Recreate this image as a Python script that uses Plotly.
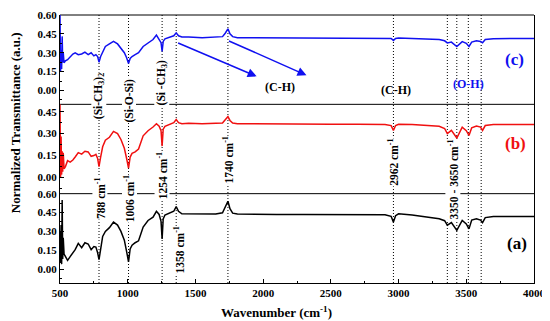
import plotly.graph_objects as go

# ---------------- data ----------------
wavenumber = [500, 504, 508, 512, 516, 520, 524, 530, 540, 556, 575, 595, 612, 635, 660, 684, 708, 730,
              750, 765, 778, 788, 800, 815, 835, 865, 895, 925, 950, 975, 992, 1006, 1018, 1032, 1055,
              1080, 1114, 1150, 1187, 1212, 1232, 1246, 1254, 1262, 1275, 1310, 1340, 1358, 1375, 1400,
              1450, 1550, 1650, 1700, 1720, 1740, 1755, 1775, 1810, 1900, 2100, 2300, 2500, 2700, 2900,
              2945, 2962, 2978, 3000, 3100, 3200, 3300, 3340, 3360, 3390, 3430, 3470, 3500, 3520, 3540,
              3575, 3605, 3620, 3640, 3700, 3800, 3900, 4000]

trans_c = [0.60, 0.15, 0.32, 0.17, 0.43, 0.22, 0.30, 0.22, 0.235, 0.245, 0.27, 0.29, 0.30, 0.285, 0.29,
           0.305, 0.285, 0.30, 0.275, 0.285, 0.27, 0.225, 0.27, 0.31, 0.35, 0.37, 0.39, 0.37, 0.33, 0.30,
           0.26, 0.215, 0.255, 0.27, 0.285, 0.30, 0.35, 0.38, 0.405, 0.44, 0.41, 0.38, 0.31, 0.39, 0.41,
           0.425, 0.435, 0.458, 0.435, 0.425, 0.426, 0.42, 0.422, 0.428, 0.455, 0.49, 0.45, 0.428, 0.42,
           0.42, 0.419, 0.419, 0.418, 0.418, 0.417, 0.414, 0.398, 0.414, 0.418, 0.414, 0.41, 0.405, 0.395,
           0.378, 0.385, 0.35, 0.388, 0.375, 0.35, 0.385, 0.395, 0.39, 0.38, 0.405, 0.412, 0.413, 0.413,
           0.414]

trans_b = [0.50, 0.00, 0.28, 0.02, 0.18, 0.04, 0.17, 0.06, 0.075, 0.115, 0.105, 0.12, 0.14, 0.17, 0.16,
           0.18, 0.175, 0.145, 0.15, 0.158, 0.13, 0.075, 0.14, 0.21, 0.255, 0.275, 0.315, 0.30, 0.26, 0.20,
           0.13, 0.065, 0.14, 0.165, 0.175, 0.195, 0.285, 0.32, 0.345, 0.367, 0.35, 0.32, 0.215, 0.33, 0.35,
           0.365, 0.375, 0.396, 0.375, 0.368, 0.37, 0.368, 0.369, 0.372, 0.395, 0.416, 0.39, 0.372, 0.368,
           0.367, 0.366, 0.365, 0.364, 0.364, 0.363, 0.355, 0.322, 0.355, 0.364, 0.362, 0.358, 0.35, 0.335,
           0.30, 0.322, 0.27, 0.344, 0.32, 0.288, 0.34, 0.352, 0.345, 0.322, 0.355, 0.362, 0.362, 0.362,
           0.362]

trans_a = [0.30, 0.05, 0.35, 0.04, 0.55, 0.08, 0.25, 0.12, 0.10, 0.07, 0.10, 0.13, 0.155, 0.205, 0.17,
           0.21, 0.20, 0.155, 0.18, 0.175, 0.13, 0.075, 0.17, 0.26, 0.30, 0.33, 0.374, 0.35, 0.30, 0.23,
           0.14, 0.058, 0.16, 0.19, 0.21, 0.225, 0.335, 0.387, 0.413, 0.46, 0.435, 0.38, 0.24, 0.40, 0.43,
           0.445, 0.46, 0.497, 0.46, 0.44, 0.44, 0.436, 0.438, 0.448, 0.49, 0.54, 0.48, 0.445, 0.438,
           0.436, 0.435, 0.434, 0.434, 0.433, 0.432, 0.42, 0.374, 0.425, 0.44, 0.43, 0.418, 0.40, 0.385,
           0.35, 0.37, 0.308, 0.387, 0.36, 0.32, 0.39, 0.40, 0.39, 0.37, 0.41, 0.418, 0.418, 0.418,
           0.418]

assert len(wavenumber) == len(trans_a) == len(trans_b) == len(trans_c)

band_positions = [788, 1006, 1254, 1358, 1740, 2962, 3360, 3430, 3515, 3610]

x_ticks = [500, 1000, 1500, 2000, 2500, 3000, 3500, 4000]
y_ticks_full = [0.00, 0.15, 0.30, 0.45, 0.60]
y_ticks_mid = [0.00, 0.15, 0.30, 0.45]

BLUE = "#1010F0"
RED = "#F01010"
BLACK = "#000000"
FONT = "Liberation Serif"

fig = go.Figure()
fig.add_trace(go.Scatter(x=wavenumber, y=trans_a, mode="lines", line=dict(color=BLACK, width=1.5),
                         xaxis="x", yaxis="y", showlegend=False))
fig.add_trace(go.Scatter(x=wavenumber, y=trans_b, mode="lines", line=dict(color=RED, width=1.5),
                         xaxis="x", yaxis="y2", showlegend=False))
fig.add_trace(go.Scatter(x=wavenumber, y=trans_c, mode="lines", line=dict(color=BLUE, width=1.5),
                         xaxis="x", yaxis="y3", showlegend=False))

yax_common = dict(showline=True, linecolor="black", linewidth=1, mirror=True, ticks="inside",
                  ticklen=4, tickcolor="black", tickformat=".2f", showgrid=False, zeroline=False,
                  anchor="x", automargin=False, ticklabeloverflow="allow",
                  tickfont=dict(size=11, family=FONT, color="black", weight="bold"),
                  minor=dict(ticks="inside", ticklen=2, tickcolor="black", dtick=0.075))

# the page body adds an 8 px offset; the figure is sized so the visible frame matches
fig.update_layout(
    width=542, height=313,
    margin=dict(l=52, r=16, t=7, b=38, autoexpand=False),
    paper_bgcolor="white", plot_bgcolor="white",
    font=dict(family=FONT, color="black", weight="bold"),
    xaxis=dict(range=[500, 4000], tickvals=x_ticks, showline=True, linecolor="black", linewidth=1,
               ticks="inside", ticklen=4, tickcolor="black", showgrid=False, zeroline=False,
               anchor="y", automargin=False, ticklabeloverflow="allow",
               minor=dict(ticks="inside", ticklen=2, tickcolor="black", dtick=250),
               tickfont=dict(size=11, family=FONT, color="black", weight="bold")),
    yaxis=dict(domain=[0, 1/3], range=[-0.11, 0.60], tickvals=y_ticks_full, **yax_common),
    yaxis2=dict(domain=[1/3, 2/3], range=[-0.11, 0.50], tickvals=y_ticks_mid, **yax_common),
    yaxis3=dict(domain=[2/3, 1], range=[-0.11, 0.60], tickvals=y_ticks_full, **yax_common),
)

shapes = []
for wn in band_positions:
    shapes.append(dict(type="line", xref="x", yref="paper", x0=wn, x1=wn, y0=0, y1=1,
                       line=dict(color="black", width=1, dash="1px,2px"), layer="below"))
for yp in [1/3, 2/3, 1]:
    shapes.append(dict(type="line", xref="paper", yref="paper", x0=0, x1=1, y0=yp, y1=yp,
                       line=dict(color="black", width=1), layer="below"))
fig.update_layout(shapes=shapes)

def ann(text, x, y, angle=0, color="black", size=11.5, bg=None):
    d = dict(text=text, x=x, y=y, xref="x", yref="paper", showarrow=False, textangle=angle,
             font=dict(size=size, family=FONT, color=color, weight="bold"),
             xanchor="center", yanchor="middle", borderpad=0)
    if bg:
        d["bgcolor"] = bg
    return d

annotations = [
    ann("(Si-CH<sub>3</sub>)<sub>2</sub>", 788, 0.697, -90, bg="white"),
    ann("(Si-O-Si)", 1006, 0.679, -90, bg="white"),
    ann("(Si -CH<sub>3</sub>)", 1254, 0.745, -90, bg="white"),
    ann("(C-H)", 2128, 0.731, size=12),
    ann("(C-H)", 2983, 0.720, size=12),
    ann("(O-H)", 3514, 0.742, color=BLUE, size=12),
    ann("(c)", 3853, 0.834, color=BLUE, size=17),
    ann("(b)", 3867, 0.520, color=RED, size=17),
    ann("(a)", 3875, 0.148, color=BLACK, size=17),
    ann("788 cm<sup>-1</sup>", 795, 0.317, -90, bg="white"),
    ann("1006 cm<sup>-1</sup>", 1012, 0.314, -90, bg="white"),
    ann("1254 cm<sup>-1</sup>", 1254, 0.399, -90, bg="white"),
    ann("1358 cm<sup>-1</sup>", 1378, 0.125, -90, bg="white"),
    ann("1740 cm<sup>-1</sup>", 1738, 0.460, -90, bg="white"),
    ann("2962 cm<sup>-1</sup>", 2962, 0.450, -90, bg="white"),
    ann("3350 - 3650 cm<sup>-1</sup>", 3403, 0.387, -90, bg="white"),
    dict(text="Normalized Transmittance (a.u.)", x=-0.094, y=0.598, xref="paper", yref="paper",
         showarrow=False, textangle=-90, xanchor="center", yanchor="middle",
         font=dict(size=13, family=FONT, color="black", weight="bold")),
    dict(text="Wavenumber (cm<sup>-1</sup>)", x=2099, y=-0.107, xref="x", yref="paper",
         showarrow=False, xanchor="center", yanchor="middle",
         font=dict(size=13, family=FONT, color="black", weight="bold")),
    dict(text="", x=1952, y=0.771, xref="x", yref="paper", showarrow=True, ax=-80, ay=-34,
         arrowhead=2, arrowsize=1.2, arrowwidth=1.5, arrowcolor=BLUE),
    dict(text="", x=2320, y=0.775, xref="x", yref="paper", showarrow=True, ax=-79, ay=-35,
         arrowhead=2, arrowsize=1.2, arrowwidth=1.5, arrowcolor=BLUE),
]
fig.update_layout(annotations=annotations)

fig.write_html("out.html")
